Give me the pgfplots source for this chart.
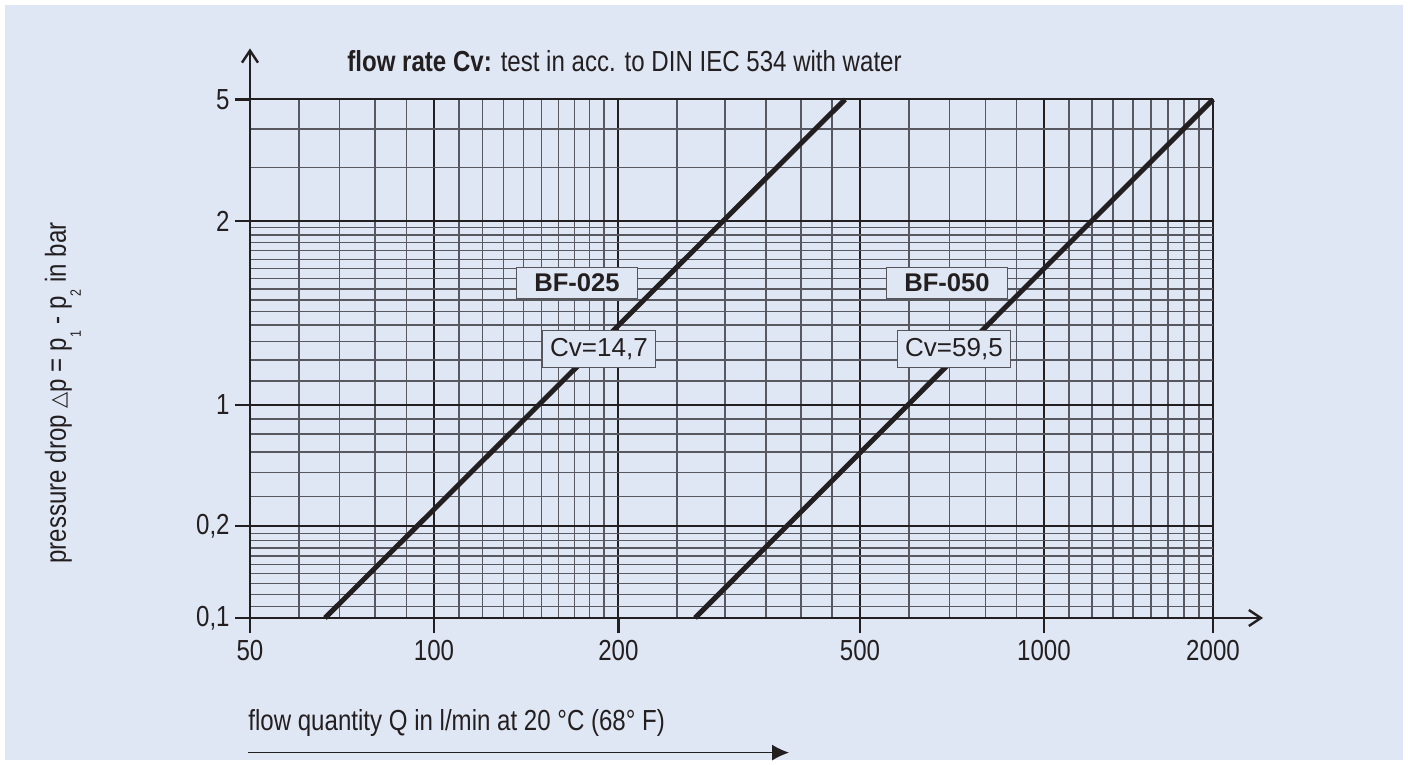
\documentclass[border=0pt]{standalone}
\usepackage{fontspec}
\setmainfont{Liberation Sans}
\newfontfamily\narrow{Liberation Sans}[FakeStretch=0.83]
\newfontfamily\dejavu{DejaVu Sans}
\usepackage{pgfplots}
\pgfplotsset{compat=1.18}
\usetikzlibrary{arrows.meta}
\definecolor{bg}{RGB}{224,231,244}
\definecolor{ink}{RGB}{35,31,32}
\definecolor{minorc}{RGB}{88,88,96}
\definecolor{boxline}{RGB}{85,85,90}
\newcommand\sub[1]{\raisebox{-7.5pt}{\fontsize{7.5}{8}\selectfont #1}}
\begin{document}
\begin{tikzpicture}
\path[use as bounding box, fill=white] (-125pt,-73.5pt) rectangle (579pt,309pt);
\fill[bg] (-122.5pt,-71pt) rectangle (576.5pt,306.5pt);
\begin{axis}[
  at={(0,0)}, anchor=south west,
  x=0.5pt, y=0.5pt,
  xmin=250, xmax=1213, ymin=147, ymax=665.5,
  enlargelimits=false, clip=false,
  axis x line*=bottom, axis y line*=left,
  axis line style={ink, line width=1.2pt},
  x axis line style={-{Straight Barb[length=6pt,width=8pt]}, shorten >=-25pt},
  y axis line style={-{Straight Barb[length=6pt,width=8pt]}, shorten >=-25.5pt},
  xtick={250,434,618.4,860,1044,1213},
  xticklabels={50,100,200,500,1000,2000},
  ytick={147,239,360,544,665.5},
  yticklabels={{0,1},{0,2},1,2,5},
  minor xtick={299,339.7,375,406.3,459,482.6,503.2,523.2,541.5,558.4,574.4,589.7,603.9,677,725,766,801,832,908.9,949.7,985.2,1016.7,1069,1092,1113,1133,1151,1168,1184,1199},
  minor ytick={636,597.7,537.3,530,522.5,514.3,505.7,496.7,486.7,476,465,453.3,440,423.3,405,384,346,331,313,292.7,268.7,231.7,224.7,217,209,200.7,191.7,181.7,170.7,158.7},
  grid=both,
  major grid style={ink, line width=1pt},
  minor grid style={minorc, line width=0.65pt},
  tick align=outside,
  major tick length=7.5pt,
  minor tick length=0pt,
  tick style={ink, line width=1.2pt},
  ticklabel style={font=\narrow\fontsize{14.5}{16}\selectfont, text=ink},
  xticklabel style={inner sep=3.5pt},
  yticklabel style={inner sep=2.5pt},
  /pgf/number format/assume math mode=true,
]
\addplot[ink, line width=2.5pt] coordinates {(325,147) (845,665.5)};
\addplot[ink, line width=2.5pt] coordinates {(695,147) (1213,665.5)};

\node[draw=boxline, fill=bg, line width=0.5pt, minimum width=60.3pt, minimum height=15.5pt, inner sep=0pt, font=\bfseries\fontsize{12.8}{14}\selectfont, text=ink] at (axis cs:577,482.2) {BF-025};
\node[draw=boxline, fill=bg, line width=0.5pt, minimum width=56.7pt, minimum height=18.6pt, inner sep=0pt, font=\fontsize{13}{15}\selectfont, text=ink] at (axis cs:599,416.3) {Cv=14,7};
\node[draw=boxline, fill=bg, line width=0.5pt, minimum width=60.3pt, minimum height=15.5pt, inner sep=0pt, font=\bfseries\fontsize{12.8}{14}\selectfont, text=ink] at (axis cs:947,482.2) {BF-050};
\node[draw=boxline, fill=bg, line width=0.5pt, minimum width=56.7pt, minimum height=18.6pt, inner sep=0pt, font=\fontsize{13}{15}\selectfont, text=ink] at (axis cs:954,416.3) {Cv=59,5};

\node[anchor=base west, inner sep=0pt, font=\narrow\fontsize{14.5}{16}\selectfont, text=ink] at (axis cs:347,693) {\textbf{flow rate Cv:} test in acc. to DIN IEC 534 with water};

\node[anchor=base west, inner sep=0pt, font=\narrow\fontsize{14.5}{16}\selectfont, text=ink] at (axis cs:248,35) {flow quantity Q in l/min at 20 °C (68° F)};
\draw[ink, line width=0.6pt, -{Latex[length=8.5pt,width=8pt]}] (axis cs:248,12.4) -- (axis cs:789,12.4);

\node[rotate=90, anchor=base, inner sep=0pt, font=\narrow\fontsize{14.5}{16}\selectfont, text=ink] at (axis cs:66,372) {pressure drop {\dejavu\fontsize{10.5}{12}\selectfont △}p = p\sub{1} - p\sub{2} in bar};
\end{axis}
\end{tikzpicture}
\end{document}
